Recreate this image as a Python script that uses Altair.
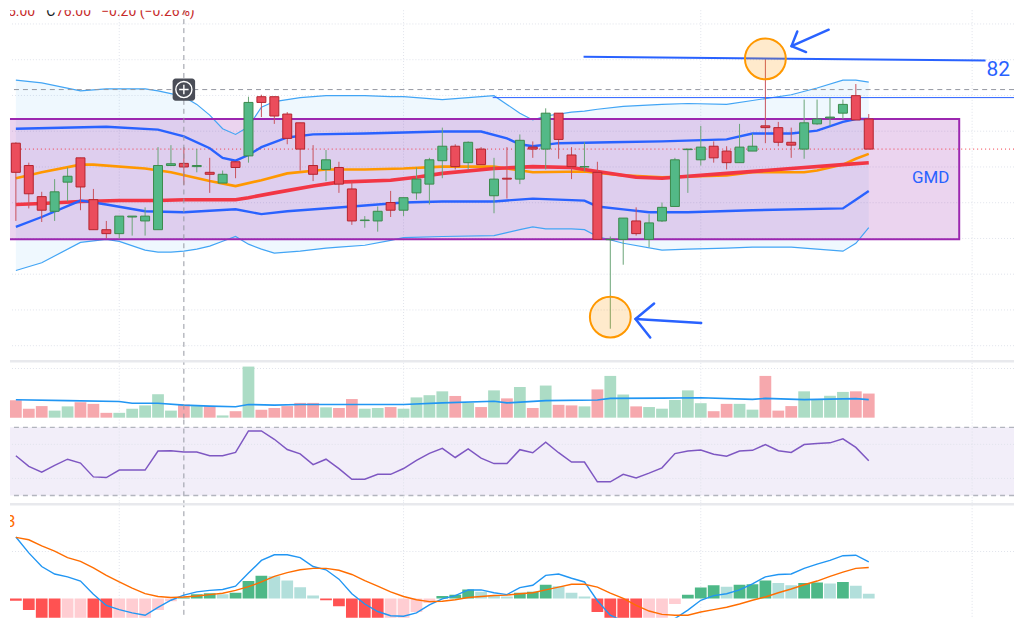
import altair as alt
import pandas as pd

# ---------------- values ----------------
opens = [77.33, 76.08, 74.34, 73.52, 75.15, 76.51, 74.17, 72.49, 72.27, 73.20,
         72.98, 72.49, 76.08, 76.20, 76.02, 75.70, 75.10, 76.29, 76.62, 79.93,
         79.93, 78.96, 78.47, 76.08, 75.86, 75.97, 74.77, 73.00, 72.98, 74.01,
         73.58, 74.55, 75.04, 76.35, 77.16, 76.24, 77.00, 74.39, 75.37, 75.32,
         77.11, 77.00, 79.01, 76.67, 76.00, 75.70, 71.93, 71.95, 72.98, 71.95,
         72.98, 73.79, 76.97, 76.40, 77.16, 76.89, 76.24, 76.89, 78.30, 78.20,
         77.38, 77.00, 78.41, 78.74, 79.01, 79.99, 78.68]
closes = [75.70, 74.50, 73.58, 74.61, 75.48, 74.88, 72.49, 72.27, 73.25, 73.25,
          73.25, 76.08, 76.18, 76.00, 76.08, 75.59, 75.59, 75.97, 79.61, 79.61,
          78.85, 77.60, 77.00, 75.59, 76.40, 75.04, 72.98, 73.03, 73.52, 73.58,
          74.28, 75.32, 76.40, 77.16, 76.02, 77.38, 76.13, 75.32, 75.32, 77.49,
          77.00, 79.01, 77.54, 76.02, 76.02, 71.95, 71.95, 73.14, 72.27, 72.87,
          73.74, 76.40, 77.00, 77.11, 76.51, 76.24, 77.11, 77.16, 78.20, 77.38,
          77.22, 78.47, 78.68, 78.79, 79.50, 78.63, 77.00]
highs = [77.38, 76.24, 74.61, 75.32, 75.97, 76.51, 74.77, 72.98, 73.25, 73.25,
         73.74, 77.11, 77.22, 77.11, 77.00, 76.51, 75.80, 76.29, 79.93, 80.04,
         79.93, 79.07, 78.47, 77.22, 76.95, 76.29, 75.21, 73.25, 73.79, 74.66,
         74.28, 75.97, 76.51, 78.20, 77.27, 77.43, 77.11, 76.51, 77.11, 77.82,
         77.43, 79.28, 79.01, 77.11, 77.38, 76.29, 72.11, 73.14, 73.74, 73.36,
         74.01, 76.51, 77.00, 78.30, 77.43, 77.16, 78.41, 77.87, 82.05, 78.52,
         78.20, 79.77, 79.77, 79.88, 79.77, 80.64, 78.96]
lows = [72.98, 73.68, 72.92, 72.98, 74.07, 73.58, 72.49, 72.00, 72.00, 72.16,
        72.16, 72.49, 76.08, 75.00, 75.70, 74.55, 75.10, 75.37, 76.24, 78.79,
        78.41, 77.27, 75.80, 75.21, 75.21, 74.55, 72.76, 72.60, 72.38, 73.20,
        73.25, 74.17, 73.90, 75.37, 75.86, 75.86, 76.13, 73.41, 74.23, 75.04,
        76.51, 75.86, 76.46, 75.32, 75.75, 71.95, 66.95, 70.53, 72.16, 71.51,
        72.92, 73.79, 74.55, 76.08, 76.24, 75.86, 76.24, 76.89, 77.33, 77.16,
        76.51, 76.46, 78.36, 78.30, 78.68, 78.63, 77.00]
volumes = [180, 93, 120, 73, 117, 160, 143, 50, 50, 93,
           127, 243, 73, 137, 120, 120, 23, 67, 530, 83,
           100, 120, 153, 153, 107, 100, 193, 93, 100, 110,
           93, 210, 233, 273, 225, 153, 110, 283, 200, 317,
           100, 333, 133, 127, 117, 293, 433, 240, 117, 110,
           93, 183, 283, 150, 67, 143, 143, 83, 433, 73,
           120, 273, 193, 227, 267, 273, 250]
rsi_vals = [53.3, 47.1, 43.7, 47.7, 51.3, 49.0, 40.9, 40.5, 44.9, 44.9,
            44.9, 56.1, 56.3, 55.5, 55.5, 53.3, 53.3, 55.3, 67.9, 67.9,
            63.0, 57.0, 54.4, 48.1, 51.3, 45.8, 39.5, 39.5, 42.4, 42.4,
            45.8, 50.6, 54.7, 57.7, 52.3, 57.3, 51.9, 48.7, 48.7, 56.9,
            55.1, 61.3, 55.1, 49.6, 49.6, 38.0, 38.0, 42.4, 40.3, 43.1,
            46.2, 54.6, 56.1, 56.7, 54.2, 53.0, 56.1, 56.5, 59.9, 56.3,
            55.3, 59.9, 60.5, 60.9, 63.3, 58.2, 50.4]
macd_vals = [1.31, 0.97, 0.68, 0.52, 0.46, 0.37, 0.09, -0.15, -0.24, -0.31,
             -0.36, -0.19, -0.04, 0.07, 0.14, 0.17, 0.19, 0.26, 0.54, 0.81,
             0.93, 0.93, 0.87, 0.68, 0.61, 0.41, 0.10, -0.12, -0.28, -0.37,
             -0.38, -0.31, -0.14, -0.01, 0.06, 0.18, 0.18, 0.12, 0.08, 0.23,
             0.28, 0.49, 0.52, 0.43, 0.35, -0.05, -0.36, -0.48, -0.54, -0.54,
             -0.50, -0.43, -0.25, -0.04, 0.06, 0.10, 0.18, 0.31, 0.46, 0.51,
             0.52, 0.64, 0.73, 0.81, 0.91, 0.92, 0.78]
signal_vals = [1.30, 1.25, 1.12, 1.01, 0.87, 0.79, 0.65, 0.49, 0.35, 0.22,
               0.10, 0.04, 0.02, 0.03, 0.05, 0.08, 0.11, 0.17, 0.25, 0.35,
               0.47, 0.55, 0.61, 0.64, 0.64, 0.60, 0.51, 0.38, 0.26, 0.14,
               0.04, -0.03, -0.07, -0.06, -0.03, 0.02, 0.04, 0.06, 0.07, 0.10,
               0.12, 0.18, 0.24, 0.30, 0.30, 0.24, 0.11, 0.00, -0.15, -0.27,
               -0.34, -0.36, -0.36, -0.29, -0.24, -0.19, -0.12, -0.04, 0.03, 0.12,
               0.20, 0.29, 0.37, 0.47, 0.56, 0.64, 0.66]
hist_vals = [-0.05, -0.25, -0.50, -0.58, -0.56, -0.54, -0.60, -0.64, -0.62, -0.56,
             -0.46, -0.25, -0.06, 0.02, 0.09, 0.11, 0.09, 0.12, 0.37, 0.48,
             0.47, 0.38, 0.24, 0.06, -0.04, -0.17, -0.46, -0.54, -0.58, -0.54,
             -0.43, -0.29, -0.10, 0.05, 0.08, 0.19, 0.14, 0.06, 0.04, 0.12,
             0.14, 0.29, 0.26, 0.12, 0.04, -0.29, -0.50, -0.58, -0.62, -0.56,
             -0.43, -0.12, 0.08, 0.23, 0.28, 0.25, 0.29, 0.30, 0.38, 0.33,
             0.28, 0.33, 0.34, 0.32, 0.35, 0.27, 0.10]

band_idx = [0, 2, 5, 7, 8, 10, 11, 12, 13, 14, 15, 16, 17, 18, 19, 20, 22, 24, 25, 27,
            29, 30, 33, 37, 38, 39, 40, 41, 43, 44, 45, 47, 50, 52, 55, 57, 60, 62, 64, 65, 66]
band_upper = [80.86, 80.70, 80.26, 80.37, 80.37, 80.37, 80.26, 80.10, 79.93, 79.50,
              78.90, 78.14, 77.82, 78.25, 79.34, 79.66, 79.88, 79.99, 79.99, 79.99,
              79.93, 79.93, 79.77, 79.99, 79.50, 79.01, 78.63, 78.85, 79.07, 79.12,
              79.23, 79.39, 79.50, 79.55, 79.50, 79.72, 80.04, 80.42, 80.86, 80.86, 80.75]
band_lower = [70.21, 70.64, 71.78, 71.95, 71.84, 71.35, 71.24, 71.24, 71.29, 71.40,
              71.57, 71.84, 72.11, 71.68, 71.40, 71.18, 71.29, 71.46, 71.51, 71.62,
              71.89, 72.05, 72.11, 72.16, 72.33, 72.49, 72.65, 72.54, 72.54, 72.49,
              72.11, 71.73, 71.35, 71.40, 71.46, 71.51, 71.51, 71.40, 71.29, 71.73, 72.60]
inner_up_idx = [0, 7, 11, 13, 15, 16, 17, 18, 19, 21, 23, 27, 33, 36, 38, 39, 40, 42,
                46, 50, 55, 57, 60, 62, 64, 65, 66]
inner_up = [78.14, 78.25, 78.09, 77.71, 77.05, 76.51, 76.35, 76.67, 77.11, 77.65,
            77.82, 77.87, 77.98, 77.98, 77.60, 77.27, 77.16, 77.33, 77.38, 77.43,
            77.54, 77.87, 77.87, 78.03, 78.52, 78.68, 78.68]
inner_lo_idx = [0, 2, 5, 7, 10, 13, 17, 19, 21, 26, 30, 33, 37, 40, 44, 45, 47, 49,
                52, 57, 64, 65, 66]
inner_lo = [72.65, 73.20, 74.12, 73.90, 73.52, 73.47, 73.63, 73.36, 73.52, 73.79,
            74.01, 74.07, 74.07, 74.23, 74.12, 73.79, 73.63, 73.47, 73.47, 73.58,
            73.68, 74.17, 74.66]
ma_fast_idx = [0, 2, 5, 6, 10, 12, 15, 17, 19, 21, 24, 27, 30, 33, 37, 40, 44, 47,
               50, 55, 57, 61, 62, 64, 65, 66]
ma_fast = [75.37, 75.70, 76.13, 76.13, 75.91, 75.70, 75.21, 74.93, 75.26, 75.64,
           75.86, 75.86, 75.91, 76.02, 76.02, 75.70, 75.75, 75.53, 75.42, 75.53,
           75.70, 75.70, 75.80, 76.13, 76.46, 76.73]
ma_slow_idx = [0, 2, 5, 8, 11, 13, 17, 18, 20, 23, 25, 29, 31, 33, 37, 40, 43, 45,
               48, 50, 55, 60, 64, 66]
ma_slow = [73.90, 73.96, 74.07, 74.12, 74.12, 74.17, 74.17, 74.28, 74.55, 74.93,
           75.15, 75.26, 75.42, 75.64, 75.91, 76.02, 75.97, 75.75, 75.42, 75.37,
           75.64, 75.91, 76.13, 76.24]
vol_ma_idx = [0, 4, 8, 9, 11, 13, 15, 17, 18, 20, 22, 25, 30, 33, 37, 38, 41, 45,
              46, 50, 53, 57, 58, 61, 65, 66]
vol_ma = [186, 177, 167, 150, 150, 130, 120, 113, 137, 130, 137, 137, 137, 153,
          170, 153, 177, 183, 200, 203, 207, 190, 200, 187, 197, 187]

price_grid = [66, 68, 70, 72, 74, 76, 78, 80, 82, 84]
time_grid = [8, 30, 53, 74]
crosshair_bar = [13]
crosshair_price = [80.33]
last_close = [77.00]
ray_start = [36.9]
ray_price = [79.88]
zone_left, zone_right = [-1.0], [73.0]
zone_top, zone_bottom = [78.68], [71.95]
level_line_i = [43.93, 75.04]
level_line_p = [82.16, 81.95]
level_label = ["82"]
level_label_i, level_label_p = [76.02], [81.40]
zone_label = ["GMD"]
zone_label_i, zone_label_p = [70.79], [75.37]
mark_circle_i = [58.0, 46.0]
mark_circle_p = [82.05, 67.60]
arrow_seg = ["a", "a", "b", "b", "b", "c", "c", "d", "d", "d"]
arrow_i = [62.90, 60.02, 60.47, 60.02, 61.15, 53.03, 47.95, 49.39, 47.95, 49.09]
arrow_p = [83.68, 82.76, 83.58, 82.76, 82.43, 67.27, 67.49, 68.36, 67.49, 66.46]
rsi_levels = [70, 30]
rsi_grid = [60, 40]
vol_grid = [510]
macd_grid = [1.0]

# ---------------- layout / scales ----------------
W = 1008
H_P, H_V, H_R, H_M = 351, 60, 83, 116
xscale = alt.Scale(domain=[-0.455, 77.24], nice=False, zero=False, padding=0)
pscale = alt.Scale(domain=[65.21, 84.77], nice=False, zero=False)
vscale = alt.Scale(domain=[-20, 600], nice=False, zero=False)
rscale = alt.Scale(domain=[26.0, 74.57], nice=False, zero=False)
mscale = alt.Scale(domain=[-0.414, 2.05], nice=False, zero=False)
FONT = "Roboto"


def xq(f="i"):
    return alt.X(f"{f}:Q", scale=xscale, axis=None)


def yq(f, sc):
    return alt.Y(f"{f}:Q", scale=sc, axis=None)


n = len(opens)
bars = pd.DataFrame({"i": list(range(n)), "o": opens, "h": highs, "l": lows,
                     "c": closes, "v": volumes, "rsi": rsi_vals,
                     "macd": macd_vals, "sig": signal_vals, "hist": hist_vals})
bars["dir"] = ["up" if c >= o else "down" for o, c in zip(opens, closes)]
kinds = []
prev = 0.0
for hv in hist_vals:
    if hv >= 0:
        kinds.append("pos_up" if hv >= prev else "pos_dn")
    else:
        kinds.append("neg_dn" if hv < prev else "neg_up")
    prev = hv
bars["hk"] = kinds

one = pd.DataFrame({"k": [0]})
vgrid_df = pd.DataFrame({"i": time_grid})
cross_df = pd.DataFrame({"i": crosshair_bar})


def vgrid():
    return alt.Chart(vgrid_df).mark_rule(color="#e0e3eb", strokeDash=[1, 2], strokeWidth=1).encode(x=xq())


def vcross():
    return alt.Chart(cross_df).mark_rule(color="#9598a1", strokeDash=[5, 4], strokeWidth=1).encode(x=xq())


def separator(yv):
    return alt.Chart(one).mark_rule(color="#e8e9ed", strokeWidth=2.5).encode(
        x=alt.value(0), x2=alt.value(W), y=alt.value(yv))


# ---------------- price panel ----------------
band_df = pd.DataFrame({"i": band_idx, "u": band_upper, "lo": band_lower})
zone_df = pd.DataFrame({"x0": zone_left, "x1": zone_right, "top": zone_top, "bot": zone_bottom})
dir_fill = alt.Scale(domain=["up", "down"], range=["#53b987", "#eb4d5c"])
dir_stroke = alt.Scale(domain=["up", "down"], range=["#3a8a4c", "#b3242e"])
dir_wick = alt.Scale(domain=["up", "down"], range=["#6aa477", "#c9525d"])

p_layers = [
    alt.Chart(pd.DataFrame({"p": price_grid})).mark_rule(
        color="#e0e3eb", strokeDash=[1, 2], strokeWidth=1).encode(y=yq("p", pscale)),
    vgrid(),
    alt.Chart(band_df).mark_area(color="#2196f3", opacity=0.07).encode(
        x=xq(), y=yq("u", pscale), y2="lo"),
    alt.Chart(zone_df).mark_rect(color="#9c27b0", opacity=0.2, clip=True).encode(
        x=xq("x0"), x2="x1", y=yq("top", pscale), y2="bot"),
    alt.Chart(band_df).mark_line(color="#42a5f5", strokeWidth=1.2).encode(x=xq(), y=yq("u", pscale)),
    alt.Chart(band_df).mark_line(color="#42a5f5", strokeWidth=1.2).encode(x=xq(), y=yq("lo", pscale)),
    alt.Chart(pd.DataFrame({"p": last_close})).mark_rule(
        color="#f23645", strokeDash=[1, 3], strokeWidth=1).encode(y=yq("p", pscale)),
    alt.Chart(pd.DataFrame({"x0": ray_start, "x1": [78.0], "p": ray_price})).mark_rule(
        color="#2962ff", strokeWidth=1, clip=True).encode(x=xq("x0"), x2="x1", y=yq("p", pscale)),
    alt.Chart(pd.DataFrame({"i": ma_fast_idx, "p": ma_fast})).mark_line(
        color="#ff9800", strokeWidth=2.6).encode(x=xq(), y=yq("p", pscale)),
    alt.Chart(pd.DataFrame({"i": ma_slow_idx, "p": ma_slow})).mark_line(
        color="#f23645", strokeWidth=3.6).encode(x=xq(), y=yq("p", pscale)),
    alt.Chart(pd.DataFrame({"i": inner_up_idx, "p": inner_up})).mark_line(
        color="#2962ff", strokeWidth=2.4).encode(x=xq(), y=yq("p", pscale)),
    alt.Chart(pd.DataFrame({"i": inner_lo_idx, "p": inner_lo})).mark_line(
        color="#2962ff", strokeWidth=2.4).encode(x=xq(), y=yq("p", pscale)),
    alt.Chart(zone_df).mark_rect(fillOpacity=0, stroke="#9c27b0", strokeWidth=2, clip=True).encode(
        x=xq("x0"), x2="x1", y=yq("top", pscale), y2="bot"),
    alt.Chart(bars).mark_rule(strokeWidth=1).encode(
        x=xq(), y=yq("l", pscale), y2="h",
        color=alt.Color("dir:N", scale=dir_wick, legend=None)),
    alt.Chart(bars).mark_bar(width=9, strokeWidth=1).encode(
        x=xq(), y=yq("o", pscale), y2="c",
        fill=alt.Fill("dir:N", scale=dir_fill, legend=None),
        stroke=alt.Stroke("dir:N", scale=dir_stroke, legend=None)),
    alt.Chart(pd.DataFrame({"p": crosshair_price})).mark_rule(
        color="#9598a1", strokeDash=[5, 4], strokeWidth=1).encode(y=yq("p", pscale)),
    vcross(),
    alt.Chart(pd.DataFrame({"i": level_line_i, "p": level_line_p})).mark_line(
        color="#2962ff", strokeWidth=2).encode(x=xq(), y=yq("p", pscale)),
    alt.Chart(pd.DataFrame({"i": mark_circle_i, "p": mark_circle_p})).mark_point(
        shape="circle", size=1680, filled=True, fill="#ff9800", fillOpacity=0.2,
        stroke="#ff9800", strokeWidth=2, opacity=1).encode(x=xq(), y=yq("p", pscale)),
    alt.Chart(pd.DataFrame({"i": arrow_i, "p": arrow_p, "seg": arrow_seg,
                            "ord": list(range(len(arrow_i)))})).mark_line(
        color="#2962ff", strokeWidth=2.5, strokeCap="round", strokeJoin="round").encode(
        x=xq(), y=yq("p", pscale), detail="seg:N", order="ord:Q"),
    alt.Chart(pd.DataFrame({"i": level_label_i, "p": level_label_p, "t": level_label})).mark_text(
        color="#2962ff", fontSize=21, font=FONT, align="center", baseline="middle").encode(
        x=xq(), y=yq("p", pscale), text="t:N"),
    alt.Chart(pd.DataFrame({"i": zone_label_i, "p": zone_label_p, "t": zone_label})).mark_text(
        color="#2962ff", fontSize=17, font=FONT, align="center", baseline="middle").encode(
        x=xq(), y=yq("p", pscale), text="t:N"),
    # crosshair handle
    alt.Chart(pd.DataFrame({"x0": [12.13], "x1": [13.87], "y0": [79.71], "y1": [80.95]})).mark_rect(
        color="#4a4d57", cornerRadius=3).encode(x=xq("x0"), x2="x1", y=yq("y0", pscale), y2="y1"),
    alt.Chart(pd.DataFrame({"i": crosshair_bar, "p": crosshair_price})).mark_point(
        shape="circle", size=262, filled=False, color="white", strokeWidth=1.4, opacity=1).encode(
        x=xq(), y=yq("p", pscale)),
    alt.Chart(pd.DataFrame({"i": crosshair_bar, "p": crosshair_price})).mark_point(
        shape="M -1 0 L 1 0 M 0 -1 L 0 1", size=90, filled=False, color="white",
        strokeWidth=1.4, opacity=1).encode(x=xq(), y=yq("p", pscale)),
    # header (cut off at the top, as in the reference)
    alt.Chart(one).mark_text(color="#c62828", fontSize=14, font=FONT, align="left",
                             baseline="alphabetic", clip=True).encode(
        x=alt.value(-2), y=alt.value(5.8), text=alt.value("5.00")),
    alt.Chart(one).mark_text(color="#131722", fontSize=14, font=FONT, align="left",
                             baseline="alphabetic", clip=True).encode(
        x=alt.value(36.4), y=alt.value(5.8), text=alt.value("C")),
    alt.Chart(one).mark_text(color="#c62828", fontSize=14, font=FONT, align="left",
                             baseline="alphabetic", clip=True).encode(
        x=alt.value(46.2), y=alt.value(5.8), text=alt.value("76.00")),
    alt.Chart(one).mark_text(color="#c62828", fontSize=14, font=FONT, align="left",
                             baseline="alphabetic", clip=True).encode(
        x=alt.value(91.5), y=alt.value(5.8), text=alt.value("−0.20 (−0.26%)")),
]
price = alt.layer(*p_layers).properties(width=W, height=H_P)

# ---------------- volume panel ----------------
vol_fill = alt.Scale(domain=["up", "down"], range=["#acdcc5", "#f6a8ad"])
v_layers = [
    alt.Chart(pd.DataFrame({"v": vol_grid})).mark_rule(
        color="#e0e3eb", strokeDash=[1, 2], strokeWidth=1).encode(y=yq("v", vscale)),
    vgrid(),
    alt.Chart(bars).mark_bar(width=11.8).encode(
        x=xq(), y=yq("v", vscale), y2=alt.datum(0),
        color=alt.Color("dir:N", scale=vol_fill, legend=None)),
    alt.Chart(pd.DataFrame({"i": vol_ma_idx, "v": vol_ma})).mark_line(
        color="#2196f3", strokeWidth=1.6).encode(x=xq(), y=yq("v", vscale)),
    vcross(),
    separator(1.5),
]
volume = alt.layer(*v_layers).properties(width=W, height=H_V)

# ---------------- RSI panel ----------------
r_layers = [
    alt.Chart(pd.DataFrame({"hi": [rsi_levels[0]], "lo": [rsi_levels[1]]})).mark_rect(
        color="#7e57c2", opacity=0.1).encode(
        x=alt.value(0), x2=alt.value(W), y=yq("hi", rscale), y2="lo"),
    alt.Chart(pd.DataFrame({"r": rsi_grid})).mark_rule(
        color="#e0e3eb", strokeDash=[1, 2], strokeWidth=1).encode(y=yq("r", rscale)),
    alt.Chart(pd.DataFrame({"r": rsi_levels})).mark_rule(
        color="#b2b5be", strokeDash=[5, 4], strokeWidth=1.4).encode(y=yq("r", rscale)),
    vgrid(),
    vcross(),
    alt.Chart(bars).mark_line(color="#7e57c2", strokeWidth=1.5).encode(
        x=xq(), y=yq("rsi", rscale)),
]
rsi = alt.layer(*r_layers).properties(width=W, height=H_R)

# ---------------- MACD panel ----------------
hist_col = alt.Scale(domain=["pos_up", "pos_dn", "neg_dn", "neg_up"],
                     range=["#4db887", "#b2dfdb", "#ff5252", "#ffcdd2"])
m_layers = [
    alt.Chart(pd.DataFrame({"m": macd_grid})).mark_rule(
        color="#e0e3eb", strokeDash=[1, 2], strokeWidth=1).encode(y=yq("m", mscale)),
    vgrid(),
    vcross(),
    alt.Chart(bars).mark_bar(width=11.8, clip=True).encode(
        x=xq(), y=yq("hist", mscale), y2=alt.datum(0),
        color=alt.Color("hk:N", scale=hist_col, legend=None)),
    alt.Chart(bars).mark_line(color="#2196f3", strokeWidth=1.4, clip=True).encode(
        x=xq(), y=yq("macd", mscale)),
    alt.Chart(bars).mark_line(color="#ff6d00", strokeWidth=1.4, clip=True).encode(
        x=xq(), y=yq("sig", mscale)),
    alt.Chart(one).mark_text(color="#ff6d00", fontSize=17, font=FONT, align="right",
                             baseline="alphabetic", clip=True).encode(
        x=alt.value(5.6), y=alt.value(25.3), text=alt.value("3")),
    separator(2),
]
macd = alt.layer(*m_layers).properties(width=W, height=H_M)

chart = alt.vconcat(price, volume, rsi, macd, spacing=0, bounds="flush").resolve_scale(
    x="independent", y="independent", color="independent",
    fill="independent", stroke="independent").properties(
    padding=0, background="white").configure_view(strokeWidth=0)

chart.save("out.html", embed_options={"renderer": "svg", "actions": False})
